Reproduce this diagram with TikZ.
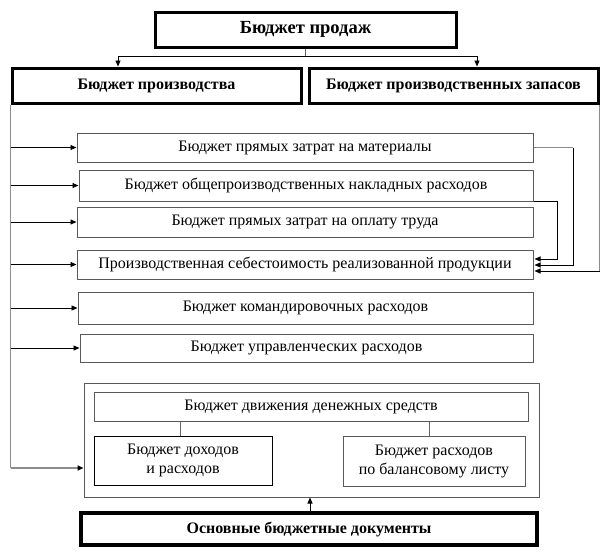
\documentclass[tikz,border=0pt]{standalone}
\usepackage{fontspec}
\setmainfont{Liberation Serif}
\usetikzlibrary{arrows.meta}
\begin{document}
\begin{tikzpicture}[x=1pt,y=-1pt,
  thinbox/.style={draw=black!65,line width=1pt,inner sep=0pt,font=\fontsize{16}{19}\selectfont,align=center},
  thickbox/.style={draw=black,line width=3pt,inner sep=0pt,font=\bfseries\fontsize{16}{19}\selectfont,align=center},
  arr/.style={-{Triangle[length=6pt,width=5pt,color=black]},line width=0.9pt},
  trunk/.style={draw=black!45,line width=1.6pt},
  link/.style={line width=0.9pt}]
\useasboundingbox (0,0) rectangle (612,554);
\fill[white] (0,0) rectangle (612,554);
% top
\node[thickbox,minimum width=301pt,minimum height=35pt,font=\bfseries\fontsize{18.5}{22}\selectfont] (sales) at (305.5,29.5) {Бюджет продаж};
\node[thickbox,minimum width=289pt,minimum height=35pt] (prod) at (156.5,85.5) {Бюджет производства};
\node[thickbox,minimum width=289pt,minimum height=35pt] (zap) at (453.5,85.5) {Бюджет производственных запасов};
% list
\node[thinbox,minimum width=456pt,minimum height=29pt] (b1) at (305,147.5) {Бюджет прямых затрат на материалы};
\node[thinbox,minimum width=454pt,minimum height=31pt] (b2) at (306,185.5) {Бюджет общепроизводственных накладных расходов};
\node[thinbox,minimum width=456pt,minimum height=30pt] (b3) at (305,222) {Бюджет прямых затрат на оплату труда};
\node[thinbox,minimum width=456pt,minimum height=29pt] (b4) at (305,264.5) {Производственная себестоимость реализованной продукции};
\node[thinbox,minimum width=455pt,minimum height=32pt] (b5) at (305.5,308) {Бюджет командировочных расходов};
\node[thinbox,minimum width=453pt,minimum height=28pt] (b6) at (306.5,348) {Бюджет управленческих расходов};
% bottom group
\node[thinbox,minimum width=455pt,minimum height=114pt] (outer) at (311.5,440) {};
\node[thinbox,minimum width=434pt,minimum height=29pt] (cash) at (311,406.5) {Бюджет движения денежных средств};
\node[thinbox,draw=black,minimum width=178pt,minimum height=49pt] (inc) at (183,460.5) {Бюджет доходов\\и расходов};
\node[thinbox,minimum width=182pt,minimum height=50pt] (bal) at (434,461) {Бюджет расходов\\по балансовому листу};
\node[thickbox,minimum width=456pt,minimum height=32pt,line width=3.2pt] (docs) at (309,529) {Основные бюджетные документы};
% top connectors
\coordinate (j) at (sales.south |- 0,56);
\draw[link,black!60] (sales.south) -- (j);
\draw[arr] (j) -| (prod.north -| 118,0);
\draw[arr] (j) -| (zap.north -| 477,0);
% left trunk
\coordinate (lt) at (prod.south west);
\coordinate (lb) at (lt |- 0,468);
\draw[trunk] (lt) -- (lb);
\draw[arr,black!45,line width=1.6pt] (lb) -- (outer.west |- lb);
\foreach \b in {b1,b2,b3,b4,b5,b6}
  \draw[arr] (lt |- \b.west) -- (\b.west);
% right trunk and feeds into b4
\coordinate (rt) at (zap.south east);
\coordinate (rb) at (rt |- 0,271);
\draw[trunk] (rt) -- (rb);
\draw[arr] (rb) -- ([xshift=1pt]b4.east |- rb);
\coordinate (c1) at (573,0);
\draw[link,black!45,line width=1.6pt] (b1.east) -- (c1 |- b1.east);
\draw[arr] (c1 |- b1.east) -- (c1 |- 0,265) -- ([xshift=1pt]b4.east |- 0,265);
\coordinate (c2) at (557,0);
\draw[arr] (b2.south east) -- (c2 |- b2.south east) -- (c2 |- 0,259) -- ([xshift=1pt]b4.east |- 0,259);
% bottom links
\draw[link,black!60] (cash.south -| 180,0) -- (inc.north -| 180,0);
\draw[link,black!60] (cash.south -| 429,0) -- (bal.north -| 429,0);
\draw[arr] (docs.north -| 310,0) -- (outer.south -| 310,0);
\end{tikzpicture}
\end{document}
